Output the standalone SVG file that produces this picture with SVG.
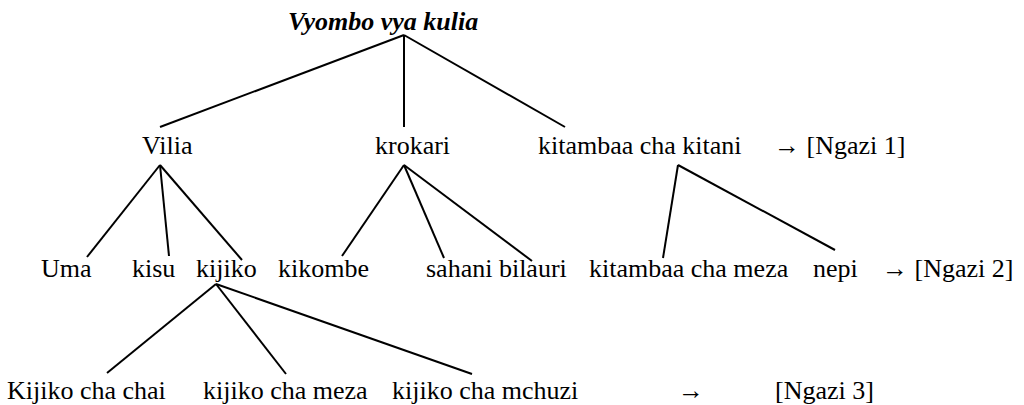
<svg xmlns="http://www.w3.org/2000/svg" width="1024" height="405" viewBox="0 0 1024 405">
<style>
text{font-family:'Liberation Serif','Times New Roman',Times,serif;font-size:26px;fill:#000}
.title{font-weight:bold;font-style:italic}
.edges line{stroke:#000;stroke-width:2;stroke-linecap:butt}
</style>
<rect width="1024" height="405" fill="#fff"/>
<g id="connectors" class="edges">
<line x1="404" y1="35" x2="160" y2="127"/>
<line x1="404" y1="35" x2="404" y2="127"/>
<line x1="404" y1="35" x2="565" y2="127"/>
<line x1="160" y1="165" x2="87" y2="257"/>
<line x1="160" y1="165" x2="169" y2="256"/>
<line x1="160" y1="165" x2="242" y2="260"/>
<line x1="404" y1="165" x2="342" y2="256"/>
<line x1="404" y1="165" x2="444" y2="258"/>
<line x1="404" y1="165" x2="532" y2="261"/>
<line x1="678" y1="165" x2="663" y2="258"/>
<line x1="678" y1="165" x2="835" y2="250"/>
<line x1="216" y1="284" x2="107" y2="373"/>
<line x1="216" y1="284" x2="286" y2="374"/>
<line x1="216" y1="284" x2="472" y2="374"/>
</g>
<g font-family="Liberation Serif, Times New Roman, serif">
<g id="n-root"><text class="title" x="288" y="30">Vyombo vya kulia</text></g>
<g id="n-vilia"><text x="142" y="154">Vilia</text></g>
<g id="n-krokari"><text x="375" y="154">krokari</text></g>
<g id="n-kitani"><text x="538" y="154">kitambaa cha kitani</text></g>
<g id="n-ngazi1"><text x="774" y="154">→ [Ngazi 1]</text></g>
<g id="n-uma"><text x="41" y="277">Uma</text></g>
<g id="n-kisu"><text x="132" y="277">kisu</text></g>
<g id="n-kijiko"><text x="196" y="277">kijiko</text></g>
<g id="n-kikombe"><text x="278" y="277">kikombe</text></g>
<g id="n-sahani"><text x="426" y="277">sahani bilauri</text></g>
<g id="n-meza"><text x="589" y="277">kitambaa cha meza</text></g>
<g id="n-nepi"><text x="813" y="277">nepi</text></g>
<g id="n-ngazi2"><text x="882" y="277">→ [Ngazi 2]</text></g>
<g id="n-chai"><text x="7" y="399">Kijiko cha chai</text></g>
<g id="n-kmeza"><text x="203" y="399">kijiko cha meza</text></g>
<g id="n-mchuzi"><text x="392" y="399">kijiko cha mchuzi</text></g>
<g id="n-arrow3"><text x="678" y="399">→</text></g>
<g id="n-ngazi3"><text x="775" y="399">[Ngazi 3]</text></g>
</g>
</svg>
